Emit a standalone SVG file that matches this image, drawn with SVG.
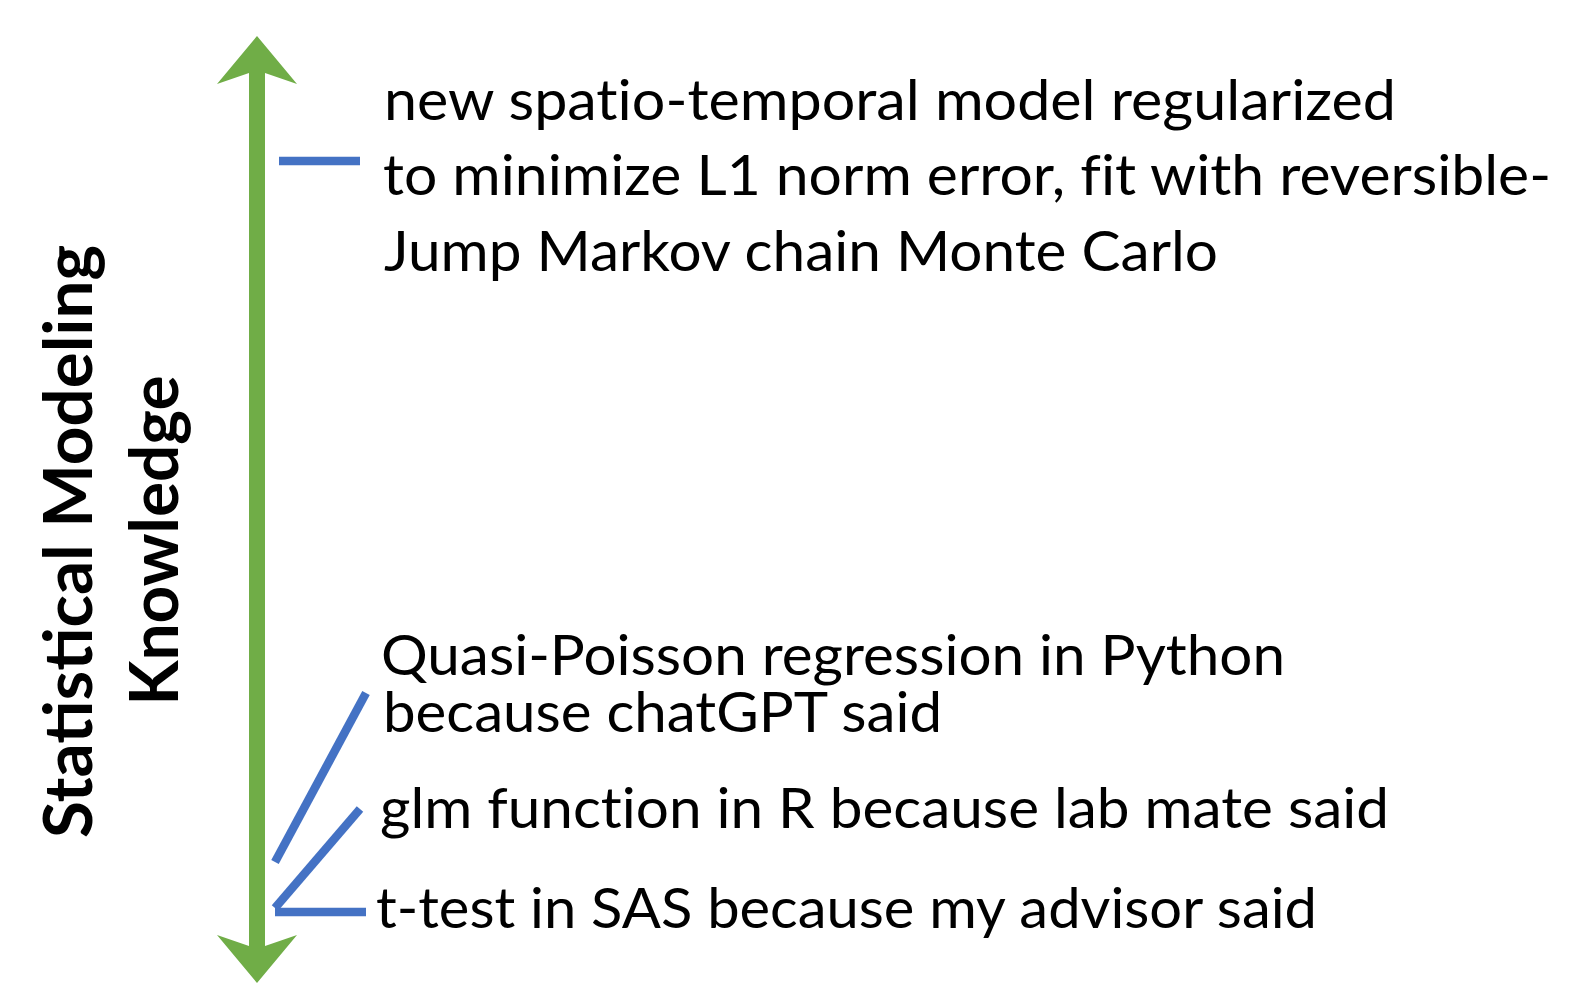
<svg xmlns="http://www.w3.org/2000/svg" width="1582" height="991" viewBox="0 0 1582 991">
<style>
.lbl{font-family:Lato,"Liberation Sans",sans-serif;font-size:57px;fill:#000;font-variant-ligatures:none}
.axis{font-family:Lato,"Liberation Sans",sans-serif;font-size:66px;font-weight:bold;fill:#000}
.lnk{stroke:#4472C4;stroke-width:8.5;fill:none;stroke-linecap:butt}
</style>
<defs>
<marker id="head" markerUnits="userSpaceOnUse" orient="auto-start-reverse" refX="0" refY="0" markerWidth="60" markerHeight="90" viewBox="-20 -45 60 90" overflow="visible">
<path d="M36,0 L-12,40 L-1,8 L-1,-8 L-12,-40 Z" fill="#70AD47"/>
</marker>
</defs>
<rect width="1582" height="991" fill="#fff"/>
<g id="axis">
<line x1="257" y1="72" x2="257" y2="947" stroke="#70AD47" stroke-width="16" marker-start="url(#head)" marker-end="url(#head)"/>
<text class="axis" transform="translate(92,541.5) rotate(-90)" text-anchor="middle" textLength="593" lengthAdjust="spacingAndGlyphs">Statistical Modeling</text>
<text class="axis" transform="translate(178,540.5) rotate(-90)" text-anchor="middle" textLength="330" lengthAdjust="spacingAndGlyphs">Knowledge</text>
</g>
<g id="connectors">
<line class="lnk" x1="279" y1="161" x2="360" y2="161"/>
<line class="lnk" x1="366" y1="693" x2="275" y2="862"/>
<line class="lnk" x1="360" y1="809" x2="275" y2="908"/>
<line class="lnk" x1="275" y1="912" x2="366" y2="912"/>
</g>
<g id="node-advanced">
<text class="lbl" x="384" y="120" textLength="1012" lengthAdjust="spacingAndGlyphs">new spatio-temporal model regularized</text>
<text class="lbl" x="383" y="195" textLength="1168" lengthAdjust="spacingAndGlyphs">to minimize L1 norm error, fit with reversible-</text>
<text class="lbl" x="384" y="271" textLength="834" lengthAdjust="spacingAndGlyphs">Jump Markov chain Monte Carlo</text>
</g>
<g id="node-quasi">
<text class="lbl" x="381" y="675" textLength="904" lengthAdjust="spacingAndGlyphs">Quasi-Poisson regression in Python</text>
<text class="lbl" x="383" y="732" textLength="559" lengthAdjust="spacingAndGlyphs">because chatGPT said</text>
</g>
<g id="node-glm">
<text class="lbl" x="380" y="828" textLength="1009" lengthAdjust="spacingAndGlyphs">glm function in R because lab mate said</text>
</g>
<g id="node-ttest">
<text class="lbl" x="376" y="928" textLength="941" lengthAdjust="spacingAndGlyphs">t-test in SAS because my advisor said</text>
</g>
</svg>
